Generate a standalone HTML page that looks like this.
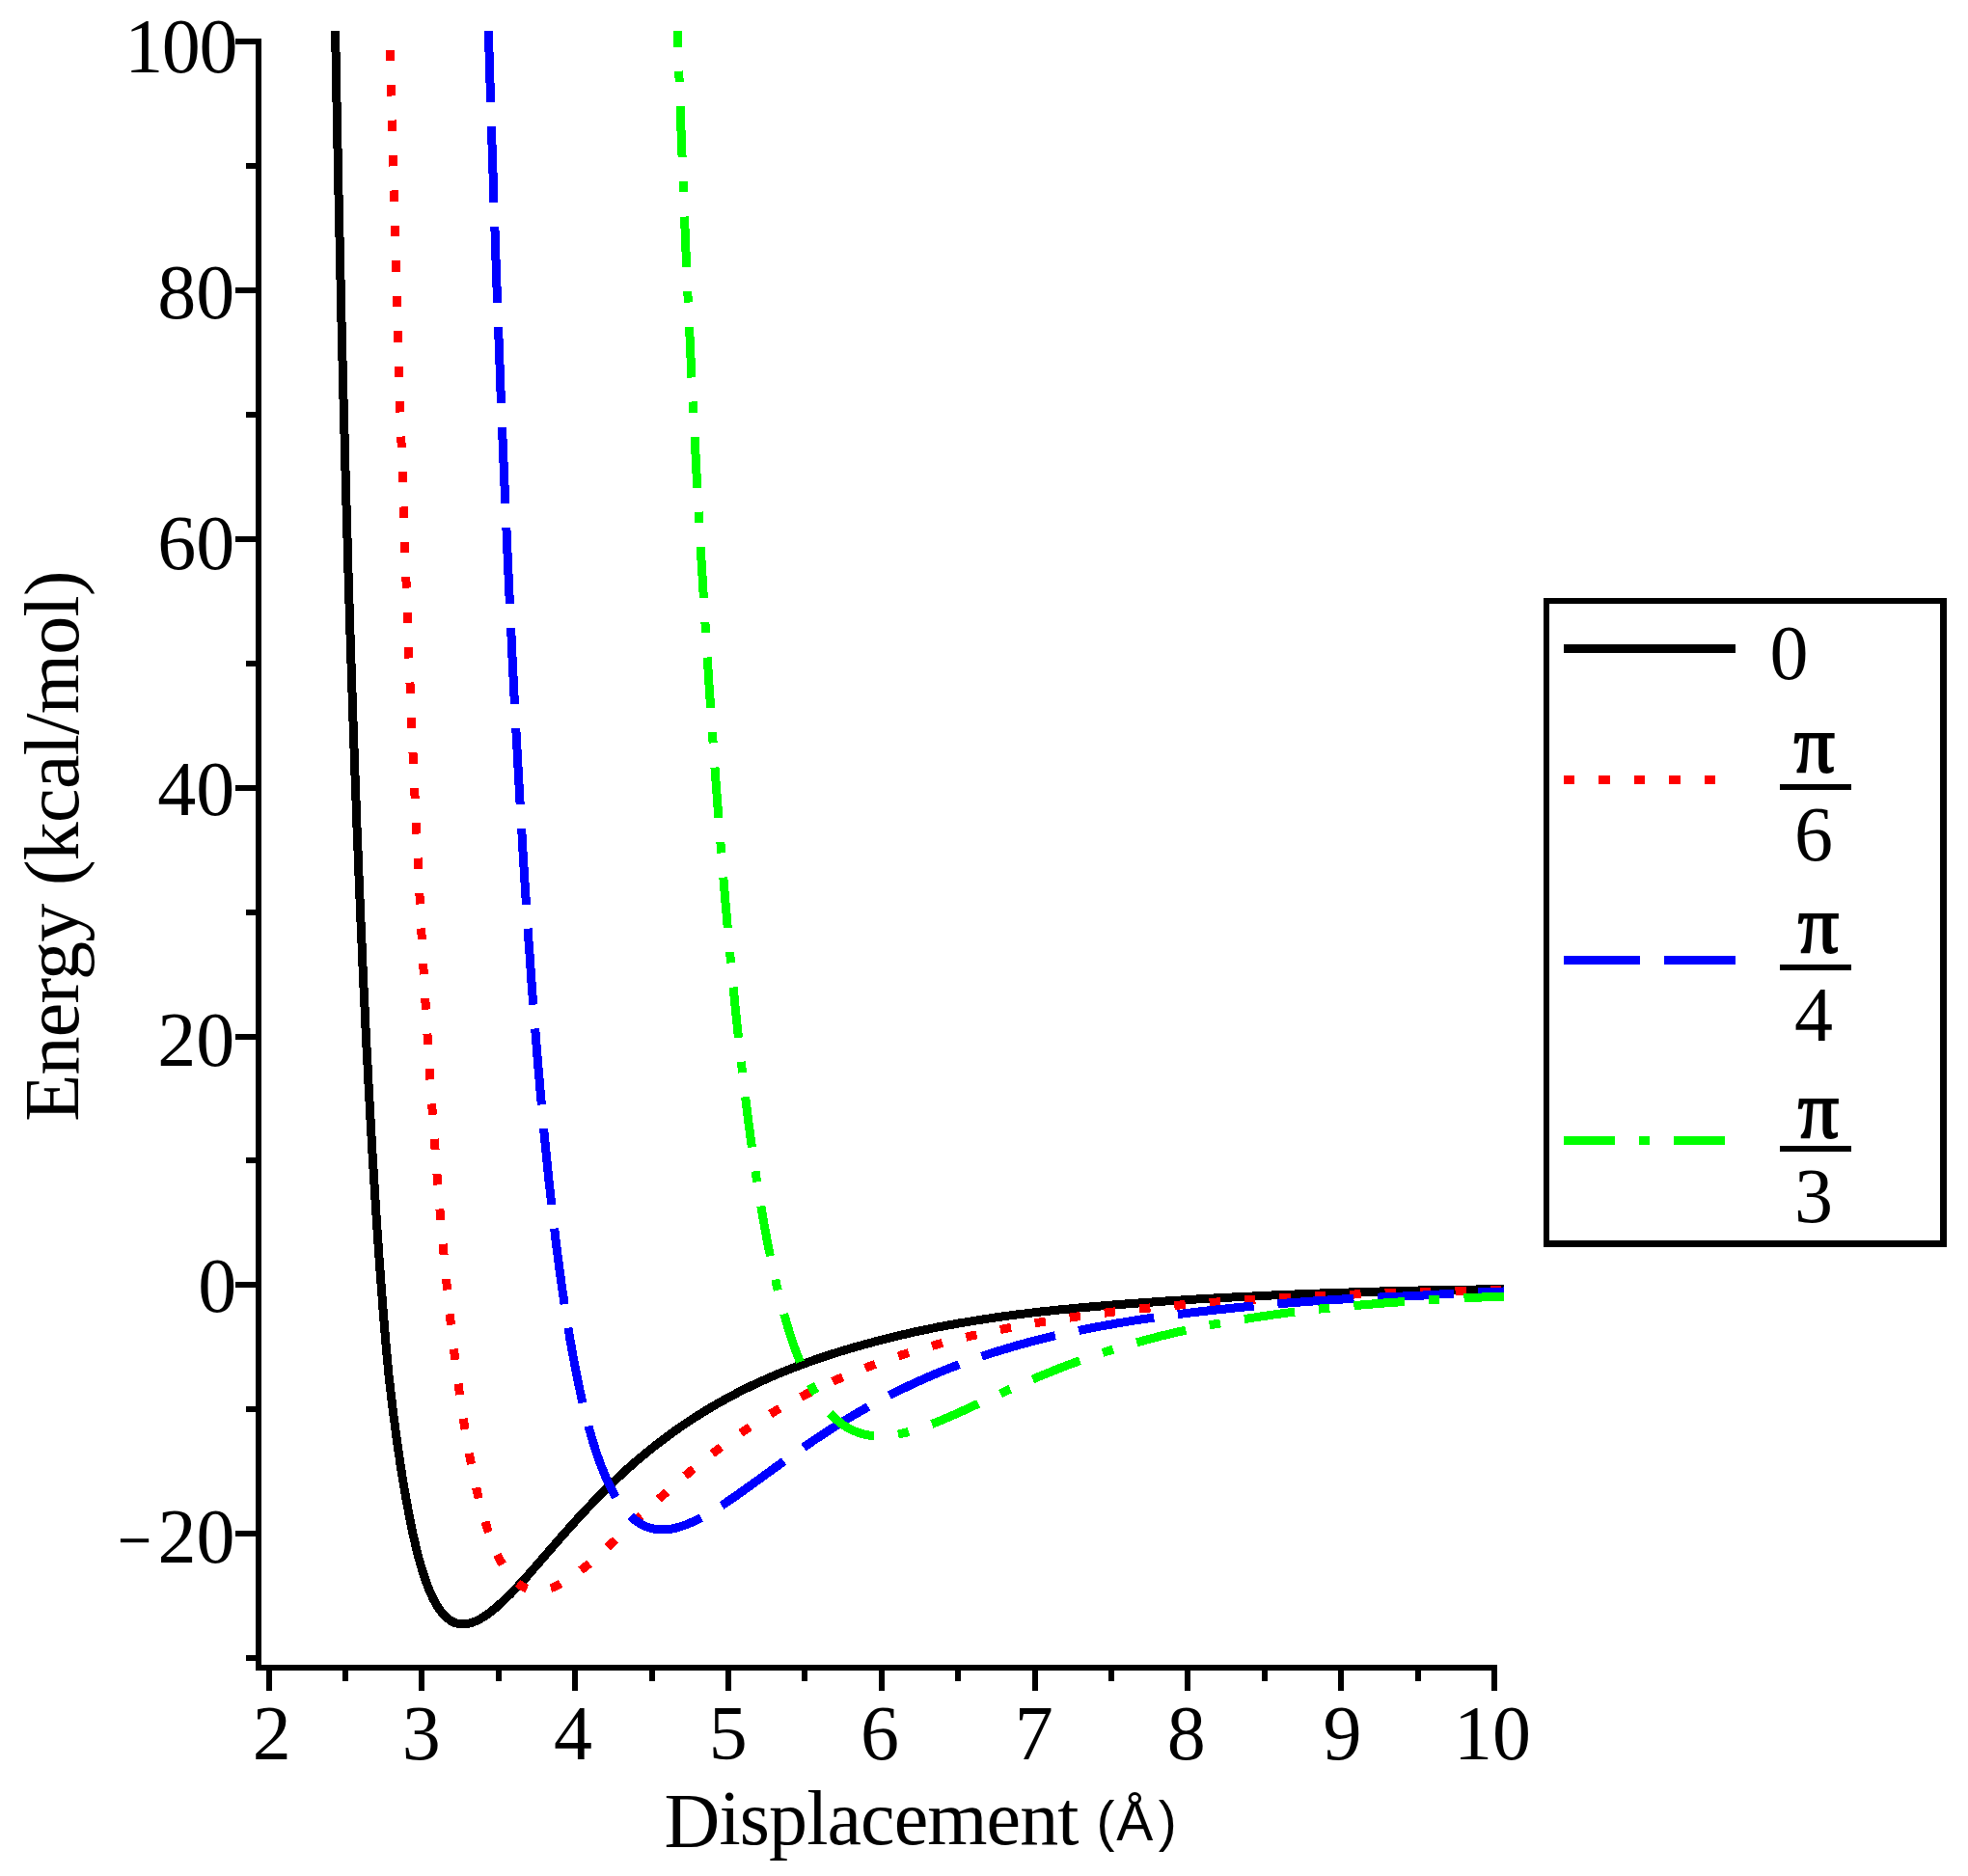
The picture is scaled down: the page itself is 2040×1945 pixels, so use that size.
<!DOCTYPE html>
<html lang="en"><head><meta charset="utf-8"><title>Energy vs Displacement</title>
<style>html,body{margin:0;padding:0;background:#fff;overflow:hidden;width:2040px;height:1945px}svg{display:block}text{font-family:'Liberation Serif', serif;font-size:80px;fill:#000}.sans{font-family:'Liberation Sans', sans-serif;font-size:56px}</style></head><body>
<svg width="2040" height="1945" viewBox="0 0 2040 1945">
<rect width="2040" height="1945" fill="#fff"/>
<defs><clipPath id="plotclip"><rect x="262" y="32" width="1297" height="1700"/></clipPath></defs>
<g clip-path="url(#plotclip)" fill="none" stroke-width="9" stroke-linecap="butt" stroke-linejoin="round" shape-rendering="crispEdges">
<path d="M344.7,-110.1 L344.7,-106.1 L344.8,-102.1 L344.9,-98.1 L345.0,-94.1 L345.0,-90.1 L345.1,-86.1 L345.2,-82.1 L345.3,-78.1 L345.4,-74.1 L345.4,-70.1 L345.5,-66.1 L345.6,-62.1 L345.7,-58.1 L345.8,-54.1 L345.9,-50.1 L345.9,-46.1 L346.0,-42.1 L346.1,-38.1 L346.2,-34.1 L346.3,-30.1 L346.3,-26.1 L346.4,-22.1 L346.5,-18.1 L346.6,-14.1 L346.7,-10.1 L346.8,-6.1 L346.8,-2.1 L346.9,1.9 L347.0,5.9 L347.1,9.9 L347.2,13.9 L347.3,17.9 L347.3,21.9 L347.4,25.9 L347.5,29.9 L347.6,33.9 L347.7,37.9 L347.7,41.9 L347.8,45.9 L347.9,49.9 L348.0,53.9 L348.0,57.9 L348.1,61.9 L348.2,65.9 L348.3,69.9 L348.4,73.9 L348.4,77.9 L348.5,81.9 L348.6,85.9 L348.7,89.9 L348.7,93.9 L348.8,97.9 L348.9,101.9 L349.0,105.9 L349.1,109.9 L349.1,113.9 L349.2,117.9 L349.3,121.9 L349.4,125.9 L349.5,129.9 L349.6,133.9 L349.6,137.9 L349.7,141.9 L349.8,145.9 L349.9,149.9 L350.0,153.9 L350.0,157.9 L350.1,161.9 L350.2,165.9 L350.3,169.9 L350.4,173.9 L350.5,177.9 L350.6,181.9 L350.6,185.9 L350.7,189.9 L350.8,193.9 L350.9,197.9 L351.0,201.9 L351.1,205.9 L351.2,209.9 L351.2,213.9 L351.3,217.9 L351.4,221.9 L351.5,225.9 L351.6,229.9 L351.7,233.9 L351.8,237.9 L351.9,241.9 L352.0,245.9 L352.0,249.9 L352.1,253.9 L352.2,257.9 L352.3,261.9 L352.4,265.9 L352.5,269.9 L352.6,273.9 L352.7,277.9 L352.8,281.9 L352.9,285.9 L353.0,289.9 L353.1,293.9 L353.2,297.9 L353.2,301.9 L353.3,305.9 L353.4,309.9 L353.5,313.9 L353.6,317.9 L353.7,321.9 L353.8,325.9 L353.9,329.9 L354.0,333.9 L354.1,337.9 L354.2,341.9 L354.3,345.9 L354.4,349.9 L354.5,353.9 L354.6,357.9 L354.7,361.9 L354.8,365.9 L354.9,369.9 L355.0,373.9 L355.1,377.9 L355.2,381.9 L355.3,385.9 L355.4,389.9 L355.5,393.9 L355.6,397.9 L355.7,401.9 L355.8,405.9 L355.9,409.9 L356.0,413.9 L356.1,417.9 L356.2,421.9 L356.3,425.9 L356.4,429.9 L356.5,433.9 L356.6,437.9 L356.8,441.9 L356.9,445.9 L357.0,449.9 L357.1,453.9 L357.2,457.9 L357.3,461.9 L357.4,465.9 L357.5,469.9 L357.6,473.9 L357.7,477.9 L357.8,481.9 L357.9,485.9 L358.1,489.9 L358.2,493.9 L358.3,497.9 L358.4,501.9 L358.5,505.9 L358.6,509.9 L358.7,513.9 L358.8,517.9 L358.9,521.9 L359.1,525.9 L359.2,529.9 L359.3,533.9 L359.4,537.9 L359.5,541.9 L359.6,545.9 L359.7,549.9 L359.9,553.9 L360.0,557.9 L360.1,561.9 L360.2,565.9 L360.3,569.9 L360.5,573.9 L360.6,577.9 L360.7,581.9 L360.8,585.9 L360.9,589.9 L361.0,593.9 L361.2,597.9 L361.3,601.9 L361.4,605.9 L361.5,609.9 L361.7,613.9 L361.8,617.9 L361.9,621.9 L362.0,625.9 L362.1,629.9 L362.3,633.9 L362.4,637.9 L362.5,641.9 L362.6,645.9 L362.8,649.9 L362.9,653.9 L363.0,657.9 L363.2,661.9 L363.3,665.9 L363.4,669.9 L363.5,673.9 L363.7,677.9 L363.8,681.9 L363.9,685.9 L364.1,689.9 L364.2,693.9 L364.3,697.9 L364.5,701.9 L364.6,705.9 L364.7,709.9 L364.9,713.9 L365.0,717.9 L365.1,721.9 L365.3,725.9 L365.4,729.9 L365.5,733.9 L365.7,737.9 L365.8,741.9 L365.9,745.9 L366.1,749.9 L366.2,753.9 L366.4,757.9 L366.5,761.9 L366.6,765.9 L366.8,769.9 L366.9,773.9 L367.1,777.9 L367.2,781.9 L367.4,785.9 L367.5,789.9 L367.6,793.9 L367.8,797.9 L367.9,801.9 L368.1,805.9 L368.2,809.9 L368.4,813.9 L368.5,817.8 L368.7,821.8 L368.8,825.8 L369.0,829.8 L369.1,833.8 L369.3,837.8 L369.4,841.8 L369.6,845.8 L369.7,849.8 L369.9,853.8 L370.0,857.8 L370.2,861.8 L370.3,865.8 L370.5,869.8 L370.7,873.8 L370.8,877.8 L371.0,881.8 L371.1,885.8 L371.3,889.8 L371.4,893.8 L371.6,897.8 L371.8,901.8 L371.9,905.8 L372.1,909.8 L372.3,913.8 L372.4,917.8 L372.6,921.8 L372.7,925.8 L372.9,929.8 L373.1,933.8 L373.2,937.8 L373.4,941.8 L373.6,945.8 L373.8,949.8 L373.9,953.8 L374.1,957.8 L374.3,961.8 L374.4,965.8 L374.6,969.8 L374.8,973.8 L375.0,977.8 L375.1,981.8 L375.3,985.8 L375.5,989.8 L375.7,993.8 L375.9,997.8 L376.0,1001.8 L376.2,1005.8 L376.4,1009.8 L376.6,1013.8 L376.8,1017.7 L376.9,1021.7 L377.1,1025.7 L377.3,1029.7 L377.5,1033.7 L377.7,1037.7 L377.9,1041.7 L378.1,1045.7 L378.3,1049.7 L378.5,1053.7 L378.7,1057.7 L378.9,1061.7 L379.0,1065.7 L379.2,1069.7 L379.4,1073.7 L379.6,1077.7 L379.8,1081.7 L380.0,1085.7 L380.2,1089.7 L380.4,1093.7 L380.7,1097.7 L380.9,1101.7 L381.1,1105.7 L381.3,1109.7 L381.5,1113.7 L381.7,1117.7 L381.9,1121.7 L382.1,1125.7 L382.3,1129.6 L382.5,1133.6 L382.8,1137.6 L383.0,1141.6 L383.2,1145.6 L383.4,1149.6 L383.6,1153.6 L383.8,1157.6 L384.1,1161.6 L384.3,1165.6 L384.5,1169.6 L384.7,1173.6 L385.0,1177.6 L385.2,1181.6 L385.4,1185.6 L385.7,1189.6 L385.9,1193.6 L386.1,1197.6 L386.4,1201.6 L386.6,1205.6 L386.9,1209.5 L387.1,1213.5 L387.3,1217.5 L387.6,1221.5 L387.8,1225.5 L388.1,1229.5 L388.3,1233.5 L388.6,1237.5 L388.8,1241.5 L389.1,1245.5 L389.3,1249.5 L389.6,1253.5 L389.9,1257.5 L390.1,1261.5 L390.4,1265.5 L390.6,1269.5 L390.9,1273.4 L391.2,1277.4 L391.5,1281.4 L391.7,1285.4 L392.0,1289.4 L392.3,1293.4 L392.5,1297.4 L392.8,1301.4 L393.1,1305.4 L393.4,1309.4 L393.7,1313.4 L394.0,1317.4 L394.3,1321.3 L394.6,1325.3 L394.9,1329.3 L395.2,1333.3 L395.5,1337.3 L395.8,1341.3 L396.1,1345.3 L396.4,1349.3 L396.7,1353.3 L397.0,1357.3 L397.3,1361.3 L397.7,1365.2 L398.0,1369.2 L398.3,1373.2 L398.6,1377.2 L399.0,1381.2 L399.3,1385.2 L399.6,1389.2 L400.0,1393.2 L400.3,1397.1 L400.7,1401.1 L401.1,1405.1 L401.4,1409.1 L401.8,1413.1 L402.2,1417.1 L402.5,1421.1 L402.9,1425.0 L403.4,1429.0 L403.8,1433.0 L404.3,1437.0 L404.8,1441.0 L405.2,1444.9 L405.7,1448.9 L406.2,1452.9 L406.7,1456.8 L407.1,1460.8 L407.6,1464.8 L408.1,1468.8 L408.7,1472.7 L409.2,1476.7 L409.7,1480.7 L410.2,1484.6 L410.8,1488.6 L411.3,1492.6 L411.9,1496.5 L412.4,1500.5 L413.0,1504.5 L413.6,1508.4 L414.2,1512.4 L414.7,1516.3 L415.3,1520.3 L416.0,1524.2 L416.6,1528.2 L417.2,1532.2 L417.9,1536.1 L418.5,1540.0 L419.2,1544.0 L419.9,1547.9 L420.6,1551.9 L421.3,1555.8 L422.0,1559.7 L422.8,1563.7 L423.5,1567.6 L424.3,1571.5 L425.0,1575.5 L425.8,1579.4 L426.6,1583.3 L427.4,1587.2 L428.2,1591.1 L429.1,1595.0 L430.0,1598.9 L430.9,1602.8 L431.8,1606.7 L432.8,1610.6 L433.8,1614.5 L434.9,1618.3 L435.9,1622.2 L437.1,1626.0 L438.2,1629.8 L439.5,1633.6 L440.8,1637.4 L442.1,1641.2 L443.5,1644.9 L445.0,1648.6 L446.6,1652.3 L448.2,1655.9 L450.0,1659.5 L452.0,1663.0 L454.0,1666.4 L456.3,1669.7 L458.8,1672.8 L461.5,1675.7 L464.5,1678.4 L467.7,1680.6 L471.3,1682.4 L475.1,1683.5 L479.1,1683.9 L483.0,1683.7 L487.0,1683.0 L490.7,1681.7 L494.4,1680.2 L498.0,1678.3 L501.4,1676.3 L504.7,1674.0 L508.0,1671.7 L511.1,1669.2 L514.2,1666.6 L517.2,1664.0 L520.2,1661.3 L523.1,1658.5 L525.9,1655.7 L528.8,1652.9 L531.6,1650.0 L534.4,1647.2 L537.1,1644.3 L539.9,1641.3 L542.6,1638.4 L545.3,1635.5 L548.0,1632.5 L550.6,1629.5 L553.2,1626.4 L555.9,1623.4 L558.5,1620.4 L561.1,1617.4 L563.7,1614.3 L566.3,1611.3 L569.0,1608.3 L571.6,1605.3 L574.2,1602.3 L576.8,1599.2 L579.5,1596.2 L582.1,1593.2 L584.8,1590.2 L587.4,1587.2 L590.1,1584.2 L592.8,1581.3 L595.4,1578.3 L598.1,1575.3 L600.8,1572.4 L603.5,1569.4 L606.3,1566.5 L609.0,1563.6 L611.8,1560.7 L614.5,1557.8 L617.3,1554.9 L620.1,1552.1 L622.9,1549.2 L625.7,1546.4 L628.6,1543.6 L631.4,1540.8 L634.3,1538.0 L637.2,1535.2 L640.1,1532.4 L643.0,1529.7 L645.9,1527.0 L648.9,1524.3 L651.9,1521.6 L654.9,1519.0 L657.9,1516.4 L661.0,1513.7 L664.0,1511.2 L667.1,1508.6 L670.2,1506.0 L673.3,1503.5 L676.4,1501.0 L679.5,1498.5 L682.7,1496.1 L685.9,1493.6 L689.1,1491.2 L692.3,1488.8 L695.5,1486.4 L698.7,1484.1 L702.0,1481.8 L705.3,1479.5 L708.6,1477.2 L711.9,1475.0 L715.3,1472.8 L718.6,1470.6 L722.0,1468.4 L725.4,1466.3 L728.8,1464.2 L732.2,1462.1 L735.6,1460.0 L739.1,1458.0 L742.5,1456.0 L746.0,1454.0 L749.5,1452.1 L753.0,1450.1 L756.5,1448.2 L760.0,1446.3 L763.6,1444.5 L767.1,1442.6 L770.7,1440.8 L774.3,1439.1 L777.9,1437.3 L781.5,1435.6 L785.1,1433.9 L788.8,1432.2 L792.4,1430.6 L796.1,1428.9 L799.7,1427.3 L803.4,1425.8 L807.1,1424.2 L810.8,1422.7 L814.5,1421.2 L818.2,1419.7 L821.9,1418.2 L825.7,1416.8 L829.4,1415.4 L833.2,1414.0 L836.9,1412.6 L840.7,1411.3 L844.5,1409.9 L848.2,1408.6 L852.0,1407.3 L855.8,1406.1 L859.6,1404.8 L863.4,1403.6 L867.2,1402.4 L871.1,1401.2 L874.9,1400.0 L878.7,1398.9 L882.5,1397.7 L886.4,1396.6 L890.2,1395.5 L894.1,1394.5 L897.9,1393.4 L901.8,1392.4 L905.7,1391.3 L909.5,1390.3 L913.4,1389.3 L917.3,1388.3 L921.2,1387.3 L925.1,1386.4 L928.9,1385.4 L932.8,1384.5 L936.7,1383.6 L940.6,1382.7 L944.5,1381.8 L948.4,1380.9 L952.3,1380.1 L956.3,1379.3 L960.2,1378.4 L964.1,1377.6 L968.0,1376.8 L971.9,1376.0 L975.9,1375.3 L979.8,1374.5 L983.7,1373.8 L987.7,1373.1 L991.6,1372.4 L995.6,1371.7 L999.5,1371.1 L1003.5,1370.4 L1007.4,1369.8 L1011.4,1369.1 L1015.3,1368.5 L1019.3,1367.9 L1023.2,1367.3 L1027.2,1366.7 L1031.1,1366.1 L1035.1,1365.5 L1039.1,1364.9 L1043.0,1364.4 L1047.0,1363.9 L1051.0,1363.3 L1054.9,1362.8 L1058.9,1362.4 L1062.9,1361.9 L1066.9,1361.4 L1070.8,1360.9 L1074.8,1360.5 L1078.8,1360.0 L1082.8,1359.6 L1086.7,1359.2 L1090.7,1358.8 L1094.7,1358.3 L1098.7,1357.9 L1102.7,1357.5 L1106.6,1357.2 L1110.6,1356.8 L1114.6,1356.4 L1118.6,1356.0 L1122.6,1355.7 L1126.6,1355.3 L1130.5,1354.9 L1134.5,1354.6 L1138.5,1354.2 L1142.5,1353.9 L1146.5,1353.6 L1150.5,1353.2 L1154.5,1352.9 L1158.5,1352.6 L1162.4,1352.3 L1166.4,1352.0 L1170.4,1351.7 L1174.4,1351.4 L1178.4,1351.1 L1182.4,1350.8 L1186.4,1350.5 L1190.4,1350.3 L1194.4,1350.0 L1198.4,1349.7 L1202.3,1349.4 L1206.3,1349.1 L1210.3,1348.9 L1214.3,1348.6 L1218.3,1348.4 L1222.3,1348.1 L1226.3,1347.9 L1230.3,1347.6 L1234.3,1347.4 L1238.3,1347.1 L1242.3,1346.9 L1246.3,1346.7 L1250.3,1346.4 L1254.3,1346.2 L1258.3,1346.0 L1262.3,1345.8 L1266.3,1345.6 L1270.2,1345.4 L1274.2,1345.2 L1278.2,1344.9 L1282.2,1344.7 L1286.2,1344.5 L1290.2,1344.3 L1294.2,1344.1 L1298.2,1344.0 L1302.2,1343.8 L1306.2,1343.6 L1310.2,1343.4 L1314.2,1343.2 L1318.2,1343.0 L1322.2,1342.9 L1326.2,1342.7 L1330.2,1342.5 L1334.2,1342.3 L1338.2,1342.2 L1342.2,1342.0 L1346.2,1341.9 L1350.2,1341.7 L1354.2,1341.5 L1358.2,1341.4 L1362.2,1341.2 L1366.2,1341.1 L1370.2,1340.9 L1374.2,1340.8 L1378.2,1340.7 L1382.2,1340.5 L1386.2,1340.4 L1390.2,1340.2 L1394.2,1340.1 L1398.2,1340.0 L1402.2,1339.9 L1406.2,1339.7 L1410.2,1339.6 L1414.2,1339.5 L1418.2,1339.4 L1422.2,1339.3 L1426.2,1339.1 L1430.2,1339.0 L1434.2,1338.9 L1438.2,1338.8 L1442.2,1338.7 L1446.2,1338.6 L1450.2,1338.5 L1454.2,1338.4 L1458.2,1338.3 L1462.2,1338.2 L1466.2,1338.1 L1470.2,1338.0 L1474.2,1337.9 L1478.2,1337.8 L1482.2,1337.8 L1486.2,1337.7 L1490.2,1337.6 L1494.2,1337.5 L1498.2,1337.5 L1502.2,1337.4 L1506.2,1337.3 L1510.2,1337.3 L1514.2,1337.2 L1518.2,1337.1 L1522.2,1337.1 L1526.2,1337.0 L1530.2,1337.0 L1534.2,1336.9 L1538.2,1336.8 L1542.2,1336.8 L1546.2,1336.7 L1550.2,1336.7 L1554.2,1336.6 L1558.2,1336.6 L1562.2,1336.5 L1566.2,1336.5 L1570.2,1336.4 L1574.2,1336.3 L1578.2,1336.3" stroke="#000"/>
<path d="M400.5,-111.4 L400.6,-107.4 L400.7,-103.3 L400.8,-99.3 L400.9,-95.3 L401.0,-91.3 L401.1,-87.3 L401.1,-83.3 L401.2,-79.3 L401.3,-75.3 L401.4,-71.3 L401.5,-67.3 L401.6,-63.3 L401.7,-59.3 L401.8,-55.3 L401.9,-51.3 L402.0,-47.3 L402.1,-43.3 L402.2,-39.3 L402.3,-35.3 L402.4,-31.3 L402.5,-27.3 L402.6,-23.3 L402.7,-19.3 L402.8,-15.3 L402.9,-11.3 L403.0,-7.3 L403.1,-3.3 L403.2,0.7 L403.3,4.7 L403.4,8.7 L403.5,12.7 L403.6,16.7 L403.7,20.7 L403.8,24.7 L403.9,28.7 L404.0,32.7 L404.1,36.7 L404.2,40.7 L404.3,44.7 L404.4,48.7 L404.5,52.7 L404.6,56.7 L404.7,60.7 L404.8,64.7 L404.9,68.7 L405.0,72.7 L405.1,76.7 L405.2,80.7 L405.3,84.7 L405.4,88.7 L405.5,92.7 L405.6,96.7 L405.7,100.7 L405.8,104.7 L405.9,108.7 L406.0,112.7 L406.1,116.7 L406.2,120.7 L406.3,124.7 L406.4,128.7 L406.5,132.7 L406.6,136.7 L406.7,140.7 L406.8,144.7 L406.9,148.7 L407.1,152.7 L407.2,156.7 L407.3,160.7 L407.4,164.7 L407.5,168.7 L407.6,172.7 L407.7,176.7 L407.8,180.7 L407.9,184.7 L408.0,188.7 L408.1,192.7 L408.2,196.7 L408.3,200.7 L408.4,204.7 L408.6,208.7 L408.7,212.7 L408.8,216.7 L408.9,220.7 L409.0,224.7 L409.1,228.7 L409.2,232.7 L409.3,236.8 L409.4,240.8 L409.6,244.8 L409.7,248.8 L409.8,252.8 L409.9,256.8 L410.0,260.8 L410.1,264.8 L410.2,268.8 L410.3,272.8 L410.5,276.8 L410.6,280.8 L410.7,284.8 L410.8,288.8 L410.9,292.8 L411.0,296.8 L411.2,300.8 L411.3,304.8 L411.4,308.8 L411.5,312.8 L411.6,316.8 L411.7,320.8 L411.9,324.8 L412.0,328.8 L412.1,332.8 L412.2,336.8 L412.3,340.8 L412.5,344.8 L412.6,348.8 L412.7,352.8 L412.8,356.8 L412.9,360.8 L413.1,364.8 L413.2,368.8 L413.3,372.8 L413.4,376.8 L413.5,380.8 L413.7,384.8 L413.8,388.8 L413.9,392.8 L414.0,396.8 L414.2,400.8 L414.3,404.8 L414.4,408.8 L414.5,412.8 L414.7,416.8 L414.8,420.8 L414.9,424.8 L415.0,428.8 L415.2,432.8 L415.3,436.8 L415.4,440.8 L415.6,444.8 L415.7,448.8 L415.8,452.8 L415.9,456.8 L416.1,460.8 L416.2,464.8 L416.3,468.8 L416.5,472.8 L416.6,476.8 L416.7,480.8 L416.9,484.8 L417.0,488.8 L417.1,492.8 L417.3,496.8 L417.4,500.8 L417.5,504.8 L417.7,508.8 L417.8,512.8 L417.9,516.8 L418.1,520.8 L418.2,524.8 L418.4,528.8 L418.5,532.8 L418.6,536.8 L418.8,540.8 L418.9,544.8 L419.1,548.8 L419.2,552.8 L419.3,556.8 L419.5,560.8 L419.6,564.8 L419.8,568.8 L419.9,572.8 L420.0,576.8 L420.2,580.8 L420.3,584.8 L420.5,588.8 L420.6,592.8 L420.8,596.8 L420.9,600.8 L421.1,604.8 L421.2,608.8 L421.4,612.8 L421.5,616.8 L421.6,620.8 L421.8,624.8 L421.9,628.8 L422.1,632.8 L422.2,636.8 L422.4,640.8 L422.5,644.8 L422.7,648.8 L422.9,652.8 L423.0,656.8 L423.2,660.8 L423.3,664.8 L423.5,668.8 L423.6,672.8 L423.8,676.8 L423.9,680.8 L424.1,684.8 L424.3,688.8 L424.4,692.8 L424.6,696.8 L424.7,700.8 L424.9,704.8 L425.0,708.8 L425.2,712.8 L425.4,716.8 L425.5,720.8 L425.7,724.8 L425.9,728.8 L426.0,732.8 L426.2,736.8 L426.4,740.8 L426.5,744.8 L426.7,748.8 L426.9,752.8 L427.0,756.8 L427.2,760.8 L427.4,764.8 L427.5,768.8 L427.7,772.8 L427.9,776.8 L428.0,780.8 L428.2,784.8 L428.4,788.8 L428.6,792.8 L428.7,796.8 L428.9,800.8 L429.1,804.8 L429.3,808.8 L429.5,812.8 L429.6,816.7 L429.8,820.7 L430.0,824.7 L430.2,828.7 L430.4,832.7 L430.5,836.7 L430.7,840.7 L430.9,844.7 L431.1,848.7 L431.3,852.7 L431.5,856.7 L431.6,860.7 L431.8,864.7 L432.0,868.7 L432.2,872.7 L432.4,876.7 L432.6,880.7 L432.8,884.7 L433.0,888.7 L433.2,892.7 L433.4,896.7 L433.6,900.7 L433.8,904.7 L434.0,908.7 L434.2,912.7 L434.4,916.7 L434.6,920.7 L434.8,924.7 L435.0,928.7 L435.2,932.7 L435.4,936.7 L435.6,940.7 L435.8,944.7 L436.0,948.7 L436.2,952.7 L436.4,956.7 L436.6,960.7 L436.8,964.7 L437.0,968.7 L437.3,972.7 L437.5,976.7 L437.7,980.7 L437.9,984.6 L438.1,988.6 L438.3,992.6 L438.6,996.6 L438.8,1000.6 L439.0,1004.6 L439.2,1008.6 L439.5,1012.6 L439.7,1016.6 L439.9,1020.6 L440.1,1024.6 L440.4,1028.6 L440.6,1032.6 L440.8,1036.6 L441.1,1040.6 L441.3,1044.6 L441.5,1048.6 L441.8,1052.6 L442.0,1056.6 L442.2,1060.6 L442.5,1064.6 L442.7,1068.6 L443.0,1072.6 L443.2,1076.6 L443.5,1080.5 L443.7,1084.5 L444.0,1088.5 L444.2,1092.5 L444.5,1096.5 L444.7,1100.5 L445.0,1104.5 L445.2,1108.5 L445.5,1112.5 L445.8,1116.5 L446.0,1120.5 L446.3,1124.5 L446.6,1128.5 L446.8,1132.5 L447.1,1136.5 L447.4,1140.5 L447.6,1144.5 L447.9,1148.4 L448.2,1152.4 L448.5,1156.4 L448.7,1160.4 L449.0,1164.4 L449.3,1168.4 L449.6,1172.4 L449.9,1176.4 L450.2,1180.4 L450.5,1184.4 L450.8,1188.4 L451.1,1192.4 L451.4,1196.4 L451.7,1200.3 L452.0,1204.3 L452.3,1208.3 L452.6,1212.3 L452.9,1216.3 L453.2,1220.3 L453.5,1224.3 L453.8,1228.3 L454.1,1232.3 L454.5,1236.3 L454.8,1240.2 L455.1,1244.2 L455.4,1248.2 L455.8,1252.2 L456.1,1256.2 L456.5,1260.2 L456.8,1264.2 L457.1,1268.2 L457.5,1272.2 L457.8,1276.1 L458.2,1280.1 L458.5,1284.1 L458.9,1288.1 L459.3,1292.1 L459.6,1296.1 L460.0,1300.1 L460.4,1304.0 L460.7,1308.0 L461.1,1312.0 L461.5,1316.0 L461.9,1320.0 L462.3,1324.0 L462.7,1327.9 L463.1,1331.9 L463.5,1335.9 L463.9,1339.9 L464.3,1343.9 L464.7,1347.9 L465.1,1351.8 L465.5,1355.8 L466.0,1359.8 L466.4,1363.8 L466.8,1367.8 L467.3,1371.7 L467.7,1375.7 L468.2,1379.7 L468.6,1383.7 L469.1,1387.6 L469.5,1391.6 L470.0,1395.6 L470.5,1399.6 L471.0,1403.5 L471.5,1407.5 L472.0,1411.5 L472.5,1415.5 L473.0,1419.4 L473.5,1423.4 L474.0,1427.4 L474.5,1431.3 L475.1,1435.3 L475.6,1439.3 L476.2,1443.2 L476.7,1447.2 L477.3,1451.2 L477.9,1455.1 L478.5,1459.1 L479.1,1463.0 L479.7,1467.0 L480.3,1470.9 L480.9,1474.9 L481.5,1478.9 L482.2,1482.8 L482.8,1486.8 L483.5,1490.7 L484.2,1494.6 L484.9,1498.6 L485.6,1502.5 L486.3,1506.5 L487.0,1510.4 L487.8,1514.3 L488.6,1518.3 L489.3,1522.2 L490.1,1526.1 L491.0,1530.0 L491.8,1533.9 L492.7,1537.8 L493.5,1541.8 L494.4,1545.7 L495.4,1549.6 L496.3,1553.4 L497.3,1557.3 L498.3,1561.2 L499.3,1565.1 L500.4,1568.9 L501.5,1572.8 L502.6,1576.6 L503.8,1580.4 L505.0,1584.3 L506.3,1588.1 L507.6,1591.8 L508.9,1595.6 L510.3,1599.4 L511.8,1603.1 L513.4,1606.8 L515.0,1610.4 L516.7,1614.0 L518.5,1617.6 L520.4,1621.1 L522.5,1624.6 L524.7,1628.0 L527.0,1631.2 L529.5,1634.4 L532.2,1637.3 L535.1,1640.1 L538.2,1642.6 L541.5,1644.8 L545.1,1646.6 L548.9,1647.9 L552.9,1648.8 L556.9,1649.1 L560.9,1648.9 L564.8,1648.3 L568.7,1647.3 L572.5,1646.1 L576.2,1644.5 L579.8,1642.8 L583.4,1640.9 L586.8,1638.9 L590.2,1636.7 L593.5,1634.5 L596.8,1632.2 L600.0,1629.8 L603.2,1627.3 L606.3,1624.8 L609.4,1622.3 L612.4,1619.7 L615.5,1617.1 L618.5,1614.4 L621.5,1611.7 L624.4,1609.1 L627.4,1606.4 L630.3,1603.6 L633.3,1600.9 L636.2,1598.2 L639.1,1595.4 L642.0,1592.7 L644.9,1589.9 L647.8,1587.2 L650.7,1584.4 L653.6,1581.7 L656.5,1578.9 L659.4,1576.2 L662.3,1573.4 L665.2,1570.7 L668.2,1567.9 L671.1,1565.2 L674.0,1562.5 L676.9,1559.7 L679.9,1557.0 L682.8,1554.3 L685.8,1551.6 L688.7,1548.9 L691.7,1546.3 L694.7,1543.6 L697.7,1540.9 L700.7,1538.3 L703.7,1535.7 L706.8,1533.0 L709.8,1530.4 L712.9,1527.9 L715.9,1525.3 L719.0,1522.7 L722.1,1520.2 L725.2,1517.7 L728.3,1515.2 L731.4,1512.7 L734.6,1510.2 L737.7,1507.7 L740.9,1505.3 L744.1,1502.9 L747.3,1500.5 L750.5,1498.1 L753.8,1495.7 L757.0,1493.4 L760.3,1491.1 L763.5,1488.8 L766.8,1486.5 L770.1,1484.2 L773.4,1482.0 L776.8,1479.8 L780.1,1477.6 L783.5,1475.4 L786.9,1473.3 L790.2,1471.1 L793.6,1469.0 L797.1,1466.9 L800.5,1464.9 L803.9,1462.8 L807.4,1460.8 L810.9,1458.8 L814.3,1456.9 L817.8,1454.9 L821.4,1453.0 L824.9,1451.1 L828.4,1449.2 L832.0,1447.4 L835.5,1445.5 L839.1,1443.7 L842.7,1441.9 L846.3,1440.2 L849.9,1438.4 L853.5,1436.7 L857.1,1435.0 L860.7,1433.4 L864.4,1431.7 L868.1,1430.1 L871.7,1428.5 L875.4,1426.9 L879.1,1425.4 L882.8,1423.8 L886.5,1422.3 L890.2,1420.8 L893.9,1419.4 L897.7,1417.9 L901.4,1416.5 L905.2,1415.1 L908.9,1413.7 L912.7,1412.3 L916.4,1411.0 L920.2,1409.7 L924.0,1408.4 L927.8,1407.1 L931.6,1405.9 L935.4,1404.6 L939.2,1403.4 L943.0,1402.2 L946.9,1401.0 L950.7,1399.9 L954.5,1398.7 L958.4,1397.6 L962.2,1396.5 L966.1,1395.4 L969.9,1394.3 L973.8,1393.3 L977.7,1392.2 L981.5,1391.2 L985.4,1390.2 L989.3,1389.2 L993.2,1388.3 L997.0,1387.3 L1000.9,1386.4 L1004.8,1385.5 L1008.7,1384.6 L1012.6,1383.7 L1016.5,1382.8 L1020.5,1381.9 L1024.4,1381.1 L1028.3,1380.3 L1032.2,1379.4 L1036.1,1378.6 L1040.0,1377.9 L1044.0,1377.1 L1047.9,1376.3 L1051.8,1375.6 L1055.8,1374.8 L1059.7,1374.1 L1063.6,1373.4 L1067.6,1372.7 L1071.5,1372.0 L1075.5,1371.3 L1079.4,1370.7 L1083.4,1370.0 L1087.3,1369.4 L1091.3,1368.8 L1095.2,1368.1 L1099.2,1367.5 L1103.1,1366.9 L1107.1,1366.3 L1111.1,1365.8 L1115.0,1365.2 L1119.0,1364.6 L1122.9,1364.1 L1126.9,1363.6 L1130.9,1363.0 L1134.9,1362.5 L1138.8,1362.0 L1142.8,1361.5 L1146.8,1361.0 L1150.7,1360.5 L1154.7,1360.0 L1158.7,1359.6 L1162.7,1359.1 L1166.6,1358.7 L1170.6,1358.2 L1174.6,1357.8 L1178.6,1357.4 L1182.6,1356.9 L1186.5,1356.5 L1190.5,1356.1 L1194.5,1355.7 L1198.5,1355.3 L1202.5,1354.9 L1206.5,1354.6 L1210.4,1354.2 L1214.4,1353.8 L1218.4,1353.5 L1222.4,1353.1 L1226.4,1352.7 L1230.4,1352.4 L1234.4,1352.1 L1238.3,1351.7 L1242.3,1351.4 L1246.3,1351.1 L1250.3,1350.8 L1254.3,1350.5 L1258.3,1350.2 L1262.3,1349.9 L1266.3,1349.6 L1270.3,1349.3 L1274.3,1349.0 L1278.3,1348.7 L1282.3,1348.5 L1286.2,1348.2 L1290.2,1347.9 L1294.2,1347.7 L1298.2,1347.4 L1302.2,1347.2 L1306.2,1346.9 L1310.2,1346.7 L1314.2,1346.4 L1318.2,1346.2 L1322.2,1346.0 L1326.2,1345.7 L1330.2,1345.5 L1334.2,1345.3 L1338.2,1345.1 L1342.2,1344.9 L1346.2,1344.7 L1350.2,1344.5 L1354.2,1344.2 L1358.2,1344.1 L1362.2,1343.9 L1366.2,1343.7 L1370.2,1343.5 L1374.2,1343.3 L1378.2,1343.1 L1382.2,1342.9 L1386.2,1342.8 L1390.2,1342.6 L1394.2,1342.4 L1398.2,1342.2 L1402.2,1342.1 L1406.2,1341.9 L1410.2,1341.8 L1414.2,1341.6 L1418.2,1341.4 L1422.2,1341.3 L1426.2,1341.1 L1430.2,1341.0 L1434.2,1340.9 L1438.2,1340.7 L1442.2,1340.6 L1446.2,1340.4 L1450.2,1340.3 L1454.2,1340.2 L1458.2,1340.0 L1462.2,1339.9 L1466.2,1339.8 L1470.2,1339.7 L1474.2,1339.5 L1478.2,1339.4 L1482.2,1339.3 L1486.2,1339.2 L1490.2,1339.1 L1494.2,1339.0 L1498.2,1338.8 L1502.2,1338.7 L1506.2,1338.6 L1510.2,1338.5 L1514.2,1338.4 L1518.2,1338.3 L1522.2,1338.2 L1526.2,1338.1 L1530.2,1338.0 L1534.2,1337.9 L1538.2,1337.8 L1542.2,1337.7 L1546.2,1337.6 L1550.2,1337.5 L1554.2,1337.5 L1558.2,1337.4 L1562.2,1337.3 L1566.2,1337.2 L1570.2,1337.1 L1574.2,1337.0 L1578.2,1337.0" stroke="#f00" stroke-dasharray="11.4 25.057" stroke-dashoffset="19.16"/>
<path d="M502.2,-110.6 L502.3,-106.6 L502.4,-102.6 L502.5,-98.6 L502.7,-94.6 L502.8,-90.6 L502.9,-86.6 L503.0,-82.6 L503.1,-78.6 L503.2,-74.6 L503.3,-70.6 L503.5,-66.6 L503.6,-62.6 L503.7,-58.6 L503.8,-54.6 L503.9,-50.6 L504.0,-46.6 L504.2,-42.6 L504.3,-38.6 L504.4,-34.6 L504.5,-30.6 L504.6,-26.6 L504.7,-22.6 L504.9,-18.6 L505.0,-14.6 L505.1,-10.6 L505.2,-6.6 L505.3,-2.6 L505.5,1.4 L505.6,5.4 L505.7,9.4 L505.8,13.4 L505.9,17.4 L506.1,21.4 L506.2,25.4 L506.3,29.4 L506.4,33.4 L506.5,37.4 L506.7,41.4 L506.8,45.4 L506.9,49.4 L507.0,53.4 L507.1,57.4 L507.3,61.4 L507.4,65.4 L507.5,69.4 L507.6,73.4 L507.8,77.4 L507.9,81.4 L508.0,85.4 L508.1,89.4 L508.2,93.4 L508.4,97.4 L508.5,101.4 L508.6,105.4 L508.7,109.4 L508.9,113.4 L509.0,117.4 L509.1,121.4 L509.2,125.4 L509.4,129.4 L509.5,133.4 L509.6,137.4 L509.8,141.4 L509.9,145.4 L510.0,149.4 L510.1,153.4 L510.3,157.4 L510.4,161.4 L510.5,165.4 L510.7,169.4 L510.8,173.4 L510.9,177.4 L511.1,181.4 L511.2,185.4 L511.3,189.4 L511.4,193.4 L511.6,197.4 L511.7,201.4 L511.8,205.4 L512.0,209.4 L512.1,213.4 L512.3,217.4 L512.4,221.4 L512.5,225.4 L512.7,229.4 L512.8,233.4 L512.9,237.4 L513.1,241.4 L513.2,245.4 L513.3,249.4 L513.5,253.4 L513.6,257.4 L513.8,261.4 L513.9,265.4 L514.0,269.4 L514.2,273.4 L514.3,277.4 L514.5,281.4 L514.6,285.4 L514.7,289.4 L514.9,293.4 L515.0,297.4 L515.2,301.4 L515.3,305.4 L515.5,309.4 L515.6,313.4 L515.7,317.4 L515.9,321.4 L516.0,325.4 L516.2,329.4 L516.3,333.4 L516.5,337.4 L516.6,341.4 L516.8,345.4 L516.9,349.4 L517.1,353.4 L517.2,357.4 L517.4,361.4 L517.5,365.4 L517.7,369.4 L517.8,373.4 L518.0,377.4 L518.1,381.4 L518.3,385.4 L518.4,389.4 L518.6,393.4 L518.7,397.4 L518.9,401.4 L519.0,405.4 L519.2,409.4 L519.4,413.4 L519.5,417.4 L519.7,421.4 L519.8,425.4 L520.0,429.4 L520.1,433.4 L520.3,437.4 L520.5,441.4 L520.6,445.4 L520.8,449.4 L520.9,453.4 L521.1,457.4 L521.3,461.4 L521.4,465.4 L521.6,469.4 L521.7,473.4 L521.9,477.4 L522.1,481.4 L522.2,485.4 L522.4,489.4 L522.6,493.4 L522.7,497.4 L522.9,501.4 L523.1,505.4 L523.2,509.4 L523.4,513.4 L523.6,517.4 L523.7,521.4 L523.9,525.4 L524.1,529.4 L524.3,533.4 L524.4,537.4 L524.6,541.4 L524.8,545.4 L525.0,549.4 L525.1,553.4 L525.3,557.4 L525.5,561.4 L525.7,565.4 L525.8,569.4 L526.0,573.4 L526.2,577.4 L526.4,581.4 L526.5,585.4 L526.7,589.4 L526.9,593.4 L527.1,597.3 L527.3,601.3 L527.4,605.3 L527.6,609.3 L527.8,613.3 L528.0,617.3 L528.2,621.3 L528.4,625.3 L528.6,629.3 L528.7,633.3 L528.9,637.3 L529.1,641.3 L529.3,645.3 L529.5,649.3 L529.7,653.3 L529.9,657.3 L530.1,661.3 L530.3,665.3 L530.5,669.3 L530.7,673.3 L530.8,677.3 L531.0,681.3 L531.2,685.3 L531.4,689.3 L531.6,693.3 L531.8,697.3 L532.0,701.3 L532.2,705.3 L532.4,709.3 L532.6,713.3 L532.8,717.3 L533.0,721.3 L533.2,725.3 L533.5,729.3 L533.7,733.3 L533.9,737.3 L534.1,741.3 L534.3,745.3 L534.5,749.3 L534.7,753.2 L534.9,757.2 L535.1,761.2 L535.3,765.2 L535.6,769.2 L535.8,773.2 L536.0,777.2 L536.2,781.2 L536.4,785.2 L536.6,789.2 L536.9,793.2 L537.1,797.2 L537.3,801.2 L537.5,805.2 L537.7,809.2 L538.0,813.2 L538.2,817.2 L538.4,821.2 L538.6,825.2 L538.9,829.2 L539.1,833.2 L539.3,837.2 L539.6,841.2 L539.8,845.2 L540.0,849.2 L540.3,853.1 L540.5,857.1 L540.7,861.1 L541.0,865.1 L541.2,869.1 L541.4,873.1 L541.7,877.1 L541.9,881.1 L542.2,885.1 L542.4,889.1 L542.7,893.1 L542.9,897.1 L543.2,901.1 L543.4,905.1 L543.7,909.1 L543.9,913.1 L544.2,917.1 L544.4,921.1 L544.7,925.1 L544.9,929.0 L545.2,933.0 L545.4,937.0 L545.7,941.0 L546.0,945.0 L546.2,949.0 L546.5,953.0 L546.8,957.0 L547.0,961.0 L547.3,965.0 L547.6,969.0 L547.8,973.0 L548.1,977.0 L548.4,981.0 L548.7,985.0 L549.0,988.9 L549.2,992.9 L549.5,996.9 L549.8,1000.9 L550.1,1004.9 L550.4,1008.9 L550.7,1012.9 L550.9,1016.9 L551.2,1020.9 L551.5,1024.9 L551.8,1028.9 L552.1,1032.9 L552.4,1036.8 L552.7,1040.8 L553.0,1044.8 L553.3,1048.8 L553.6,1052.8 L553.9,1056.8 L554.3,1060.8 L554.6,1064.8 L554.9,1068.8 L555.2,1072.8 L555.5,1076.7 L555.8,1080.7 L556.2,1084.7 L556.5,1088.7 L556.8,1092.7 L557.1,1096.7 L557.5,1100.7 L557.8,1104.7 L558.1,1108.7 L558.5,1112.6 L558.8,1116.6 L559.2,1120.6 L559.5,1124.6 L559.8,1128.6 L560.2,1132.6 L560.6,1136.6 L560.9,1140.6 L561.3,1144.5 L561.6,1148.5 L562.0,1152.5 L562.4,1156.5 L562.7,1160.5 L563.1,1164.5 L563.5,1168.5 L563.8,1172.4 L564.2,1176.4 L564.6,1180.4 L565.0,1184.4 L565.4,1188.4 L565.8,1192.4 L566.2,1196.3 L566.6,1200.3 L567.0,1204.3 L567.4,1208.3 L567.8,1212.3 L568.2,1216.2 L568.6,1220.2 L569.0,1224.2 L569.5,1228.2 L569.9,1232.2 L570.3,1236.1 L570.8,1240.1 L571.2,1244.1 L571.7,1248.1 L572.1,1252.1 L572.6,1256.0 L573.0,1260.0 L573.5,1264.0 L573.9,1268.0 L574.4,1271.9 L574.9,1275.9 L575.4,1279.9 L575.8,1283.9 L576.3,1287.8 L576.8,1291.8 L577.3,1295.8 L577.8,1299.7 L578.4,1303.7 L578.9,1307.7 L579.4,1311.6 L579.9,1315.6 L580.5,1319.6 L581.0,1323.5 L581.5,1327.5 L582.1,1331.5 L582.7,1335.4 L583.2,1339.4 L583.8,1343.4 L584.4,1347.3 L585.0,1351.3 L585.6,1355.2 L586.2,1359.2 L586.8,1363.1 L587.4,1367.1 L588.0,1371.1 L588.7,1375.0 L589.3,1379.0 L590.0,1382.9 L590.6,1386.9 L591.3,1390.8 L592.0,1394.7 L592.7,1398.7 L593.4,1402.6 L594.1,1406.6 L594.9,1410.5 L595.6,1414.4 L596.4,1418.4 L597.1,1422.3 L597.9,1426.2 L598.7,1430.1 L599.5,1434.1 L600.4,1438.0 L601.2,1441.9 L602.0,1445.8 L602.9,1449.7 L603.8,1453.6 L604.7,1457.5 L605.7,1461.4 L606.6,1465.3 L607.6,1469.2 L608.6,1473.0 L609.6,1476.9 L610.6,1480.8 L611.7,1484.6 L612.8,1488.5 L613.9,1492.3 L615.1,1496.1 L616.3,1500.0 L617.5,1503.8 L618.8,1507.6 L620.1,1511.4 L621.4,1515.1 L622.8,1518.9 L624.3,1522.6 L625.8,1526.3 L627.3,1530.0 L628.9,1533.7 L630.6,1537.3 L632.3,1540.9 L634.1,1544.5 L636.0,1548.0 L638.0,1551.5 L640.1,1554.9 L642.3,1558.2 L644.6,1561.5 L647.0,1564.7 L649.6,1567.7 L652.3,1570.7 L655.2,1573.4 L658.3,1576.0 L661.5,1578.3 L664.9,1580.4 L668.5,1582.2 L672.2,1583.7 L676.0,1584.8 L680.0,1585.5 L683.9,1585.9 L687.9,1585.9 L691.9,1585.6 L695.9,1585.1 L699.8,1584.3 L703.7,1583.3 L707.5,1582.1 L711.2,1580.7 L715.0,1579.2 L718.6,1577.6 L722.2,1575.9 L725.8,1574.1 L729.3,1572.2 L732.8,1570.2 L736.3,1568.2 L739.7,1566.2 L743.1,1564.0 L746.5,1561.9 L749.9,1559.7 L753.2,1557.5 L756.5,1555.2 L759.8,1553.0 L763.1,1550.7 L766.4,1548.4 L769.6,1546.1 L772.9,1543.7 L776.1,1541.4 L779.4,1539.1 L782.6,1536.7 L785.9,1534.4 L789.1,1532.0 L792.4,1529.7 L795.6,1527.3 L798.8,1525.0 L802.1,1522.6 L805.3,1520.3 L808.5,1517.9 L811.8,1515.6 L815.0,1513.2 L818.3,1510.9 L821.6,1508.6 L824.8,1506.3 L828.1,1504.0 L831.4,1501.7 L834.7,1499.4 L838.0,1497.2 L841.3,1494.9 L844.6,1492.7 L847.9,1490.5 L851.3,1488.3 L854.6,1486.1 L858.0,1483.9 L861.3,1481.7 L864.7,1479.6 L868.1,1477.4 L871.5,1475.3 L874.9,1473.2 L878.3,1471.1 L881.7,1469.1 L885.2,1467.0 L888.6,1465.0 L892.1,1463.0 L895.6,1461.0 L899.0,1459.0 L902.5,1457.1 L906.0,1455.1 L909.6,1453.2 L913.1,1451.3 L916.6,1449.5 L920.2,1447.6 L923.7,1445.8 L927.3,1444.0 L930.9,1442.2 L934.5,1440.4 L938.1,1438.7 L941.7,1436.9 L945.3,1435.2 L948.9,1433.6 L952.6,1431.9 L956.2,1430.3 L959.9,1428.6 L963.6,1427.1 L967.2,1425.5 L970.9,1423.9 L974.6,1422.4 L978.3,1420.9 L982.1,1419.4 L985.8,1417.9 L989.5,1416.5 L993.3,1415.1 L997.0,1413.7 L1000.8,1412.3 L1004.5,1410.9 L1008.3,1409.6 L1012.1,1408.2 L1015.9,1406.9 L1019.7,1405.6 L1023.5,1404.4 L1027.3,1403.1 L1031.1,1401.9 L1034.9,1400.7 L1038.7,1399.6 L1042.6,1398.4 L1046.4,1397.3 L1050.2,1396.1 L1054.1,1395.0 L1057.9,1394.0 L1061.8,1392.9 L1065.7,1391.8 L1069.5,1390.8 L1073.4,1389.8 L1077.3,1388.8 L1081.2,1387.8 L1085.1,1386.9 L1088.9,1385.9 L1092.8,1385.0 L1096.7,1384.1 L1100.7,1383.2 L1104.6,1382.4 L1108.5,1381.5 L1112.4,1380.7 L1116.3,1379.9 L1120.2,1379.0 L1124.2,1378.3 L1128.1,1377.5 L1132.0,1376.7 L1135.9,1376.0 L1139.9,1375.2 L1143.8,1374.5 L1147.8,1373.8 L1151.7,1373.1 L1155.6,1372.4 L1159.6,1371.7 L1163.5,1371.1 L1167.5,1370.4 L1171.4,1369.8 L1175.4,1369.1 L1179.3,1368.5 L1183.3,1367.9 L1187.2,1367.3 L1191.2,1366.8 L1195.2,1366.2 L1199.1,1365.6 L1203.1,1365.1 L1207.1,1364.5 L1211.0,1364.0 L1215.0,1363.5 L1219.0,1362.9 L1222.9,1362.4 L1226.9,1361.9 L1230.9,1361.4 L1234.8,1360.9 L1238.8,1360.5 L1242.8,1360.0 L1246.8,1359.5 L1250.7,1359.1 L1254.7,1358.6 L1258.7,1358.2 L1262.7,1357.8 L1266.7,1357.4 L1270.6,1357.0 L1274.6,1356.5 L1278.6,1356.1 L1282.6,1355.7 L1286.6,1355.3 L1290.5,1354.9 L1294.5,1354.6 L1298.5,1354.2 L1302.5,1353.8 L1306.5,1353.4 L1310.5,1353.1 L1314.5,1352.7 L1318.4,1352.4 L1322.4,1352.0 L1326.4,1351.7 L1330.4,1351.4 L1334.4,1351.0 L1338.4,1350.7 L1342.4,1350.4 L1346.4,1350.1 L1350.4,1349.8 L1354.3,1349.5 L1358.3,1349.2 L1362.3,1348.9 L1366.3,1348.7 L1370.3,1348.4 L1374.3,1348.1 L1378.3,1347.9 L1382.3,1347.6 L1386.3,1347.3 L1390.3,1347.1 L1394.3,1346.8 L1398.3,1346.6 L1402.3,1346.4 L1406.3,1346.1 L1410.3,1345.9 L1414.3,1345.7 L1418.2,1345.5 L1422.2,1345.4 L1426.2,1345.2 L1430.2,1345.0 L1434.2,1344.8 L1438.2,1344.6 L1442.2,1344.5 L1446.2,1344.3 L1450.2,1344.1 L1454.2,1344.0 L1458.2,1343.8 L1462.2,1343.6 L1466.2,1343.5 L1470.2,1343.3 L1474.2,1343.1 L1478.2,1342.8 L1482.2,1342.6 L1486.2,1342.3 L1490.2,1342.1 L1494.2,1341.9 L1498.2,1341.6 L1502.2,1341.4 L1506.2,1341.2 L1510.2,1341.0 L1514.2,1340.8 L1518.2,1340.5 L1522.2,1340.3 L1526.2,1340.1 L1530.2,1339.9 L1534.2,1339.7 L1538.2,1339.6 L1542.2,1339.5 L1546.2,1339.3 L1550.2,1339.2 L1554.2,1339.1 L1558.2,1339.0 L1562.2,1338.9 L1566.2,1338.7 L1570.2,1338.6 L1574.2,1338.5 L1578.2,1338.4" stroke="#00f" stroke-dasharray="79.2 24.88" stroke-dashoffset="70.56"/>
<path d="M697.4,-111.0 L697.5,-107.0 L697.6,-103.0 L697.8,-99.0 L697.9,-95.0 L698.0,-91.0 L698.2,-87.0 L698.3,-83.0 L698.4,-79.0 L698.6,-75.0 L698.7,-71.0 L698.8,-67.0 L699.0,-63.0 L699.1,-59.0 L699.3,-55.0 L699.4,-51.0 L699.5,-47.0 L699.7,-43.0 L699.8,-39.0 L699.9,-35.0 L700.1,-31.0 L700.2,-27.0 L700.4,-23.0 L700.5,-19.0 L700.6,-15.0 L700.8,-11.0 L700.9,-7.0 L701.1,-3.0 L701.2,1.0 L701.4,5.0 L701.5,9.0 L701.6,13.0 L701.8,17.0 L701.9,21.0 L702.1,25.0 L702.2,29.0 L702.4,33.0 L702.5,37.0 L702.6,41.0 L702.8,45.0 L702.9,49.0 L703.1,53.0 L703.2,57.0 L703.3,61.0 L703.5,65.0 L703.6,69.0 L703.7,73.0 L703.9,77.0 L704.0,81.0 L704.2,85.0 L704.3,89.0 L704.4,93.0 L704.6,97.0 L704.7,101.0 L704.9,105.0 L705.0,109.0 L705.2,113.0 L705.3,117.0 L705.5,121.0 L705.6,125.0 L705.8,129.0 L705.9,133.0 L706.1,137.0 L706.2,141.0 L706.4,145.0 L706.5,149.0 L706.7,153.0 L706.8,157.0 L707.0,161.0 L707.1,165.0 L707.3,169.0 L707.4,173.0 L707.6,177.0 L707.7,181.0 L707.9,185.0 L708.1,189.0 L708.2,193.0 L708.4,197.0 L708.5,201.0 L708.7,205.0 L708.9,209.0 L709.0,213.0 L709.2,217.0 L709.3,221.0 L709.5,225.0 L709.7,229.0 L709.8,233.0 L710.0,236.9 L710.2,240.9 L710.3,244.9 L710.5,248.9 L710.7,252.9 L710.9,256.9 L711.0,260.9 L711.2,264.9 L711.4,268.9 L711.5,272.9 L711.7,276.9 L711.9,280.9 L712.1,284.9 L712.2,288.9 L712.4,292.9 L712.6,296.9 L712.8,300.9 L712.9,304.9 L713.1,308.9 L713.3,312.9 L713.5,316.9 L713.7,320.9 L713.8,324.9 L714.0,328.9 L714.2,332.9 L714.4,336.9 L714.6,340.9 L714.8,344.9 L715.0,348.9 L715.1,352.9 L715.3,356.9 L715.5,360.9 L715.7,364.9 L715.9,368.9 L716.1,372.9 L716.3,376.9 L716.5,380.9 L716.7,384.9 L716.9,388.9 L717.0,392.9 L717.2,396.9 L717.4,400.9 L717.6,404.9 L717.8,408.8 L718.0,412.8 L718.2,416.8 L718.4,420.8 L718.6,424.8 L718.8,428.8 L719.0,432.8 L719.2,436.8 L719.4,440.8 L719.6,444.8 L719.8,448.8 L720.0,452.8 L720.3,456.8 L720.5,460.8 L720.7,464.8 L720.9,468.8 L721.1,472.8 L721.3,476.8 L721.5,480.8 L721.7,484.8 L721.9,488.8 L722.1,492.8 L722.4,496.8 L722.6,500.8 L722.8,504.8 L723.0,508.8 L723.2,512.8 L723.4,516.7 L723.7,520.7 L723.9,524.7 L724.1,528.7 L724.3,532.7 L724.5,536.7 L724.8,540.7 L725.0,544.7 L725.2,548.7 L725.4,552.7 L725.7,556.7 L725.9,560.7 L726.1,564.7 L726.3,568.7 L726.6,572.7 L726.8,576.7 L727.0,580.7 L727.3,584.7 L727.5,588.7 L727.7,592.7 L728.0,596.7 L728.2,600.6 L728.4,604.6 L728.7,608.6 L728.9,612.6 L729.2,616.6 L729.4,620.6 L729.6,624.6 L729.9,628.6 L730.1,632.6 L730.4,636.6 L730.6,640.6 L730.9,644.6 L731.1,648.6 L731.4,652.6 L731.6,656.6 L731.9,660.6 L732.1,664.6 L732.4,668.6 L732.6,672.5 L732.9,676.5 L733.1,680.5 L733.4,684.5 L733.6,688.5 L733.9,692.5 L734.2,696.5 L734.4,700.5 L734.7,704.5 L734.9,708.5 L735.2,712.5 L735.5,716.5 L735.7,720.5 L736.0,724.5 L736.3,728.4 L736.5,732.4 L736.8,736.4 L737.1,740.4 L737.3,744.4 L737.6,748.4 L737.9,752.4 L738.2,756.4 L738.4,760.4 L738.7,764.4 L739.0,768.4 L739.3,772.4 L739.6,776.4 L739.9,780.3 L740.1,784.3 L740.4,788.3 L740.7,792.3 L741.0,796.3 L741.3,800.3 L741.6,804.3 L741.9,808.3 L742.2,812.3 L742.5,816.3 L742.8,820.3 L743.1,824.2 L743.4,828.2 L743.7,832.2 L744.0,836.2 L744.3,840.2 L744.6,844.2 L744.9,848.2 L745.2,852.2 L745.5,856.2 L745.8,860.2 L746.1,864.1 L746.4,868.1 L746.7,872.1 L747.1,876.1 L747.4,880.1 L747.7,884.1 L748.0,888.1 L748.3,892.1 L748.7,896.1 L749.0,900.0 L749.3,904.0 L749.7,908.0 L750.0,912.0 L750.3,916.0 L750.7,920.0 L751.0,924.0 L751.3,928.0 L751.7,931.9 L752.0,935.9 L752.4,939.9 L752.7,943.9 L753.1,947.9 L753.4,951.9 L753.8,955.9 L754.1,959.8 L754.5,963.8 L754.8,967.8 L755.2,971.8 L755.6,975.8 L755.9,979.8 L756.3,983.7 L756.7,987.7 L757.0,991.7 L757.4,995.7 L757.8,999.7 L758.2,1003.7 L758.5,1007.7 L758.9,1011.6 L759.3,1015.6 L759.7,1019.6 L760.1,1023.6 L760.5,1027.6 L760.9,1031.5 L761.3,1035.5 L761.7,1039.5 L762.1,1043.5 L762.5,1047.5 L762.9,1051.4 L763.3,1055.4 L763.7,1059.4 L764.2,1063.4 L764.6,1067.4 L765.0,1071.3 L765.4,1075.3 L765.9,1079.3 L766.3,1083.3 L766.8,1087.3 L767.2,1091.2 L767.6,1095.2 L768.1,1099.2 L768.5,1103.2 L769.0,1107.1 L769.5,1111.1 L769.9,1115.1 L770.4,1119.1 L770.9,1123.0 L771.3,1127.0 L771.8,1131.0 L772.3,1134.9 L772.8,1138.9 L773.3,1142.9 L773.8,1146.9 L774.3,1150.8 L774.8,1154.8 L775.3,1158.8 L775.8,1162.7 L776.3,1166.7 L776.9,1170.7 L777.4,1174.6 L777.9,1178.6 L778.5,1182.6 L779.0,1186.5 L779.6,1190.5 L780.1,1194.4 L780.7,1198.4 L781.3,1202.4 L781.9,1206.3 L782.4,1210.3 L783.0,1214.2 L783.6,1218.2 L784.2,1222.1 L784.8,1226.1 L785.5,1230.1 L786.1,1234.0 L786.7,1238.0 L787.4,1241.9 L788.0,1245.9 L788.7,1249.8 L789.4,1253.7 L790.0,1257.7 L790.7,1261.6 L791.4,1265.6 L792.1,1269.5 L792.8,1273.4 L793.6,1277.4 L794.3,1281.3 L795.0,1285.2 L795.8,1289.2 L796.6,1293.1 L797.4,1297.0 L798.2,1300.9 L799.0,1304.9 L799.8,1308.8 L800.6,1312.7 L801.5,1316.6 L802.3,1320.5 L803.2,1324.4 L804.1,1328.3 L805.0,1332.2 L805.9,1336.1 L806.9,1340.0 L807.9,1343.9 L808.8,1347.7 L809.8,1351.6 L810.9,1355.5 L811.9,1359.4 L813.0,1363.2 L814.1,1367.1 L815.2,1370.9 L816.3,1374.7 L817.5,1378.6 L818.7,1382.4 L820.0,1386.2 L821.2,1390.0 L822.5,1393.8 L823.8,1397.5 L825.2,1401.3 L826.6,1405.1 L828.1,1408.8 L829.5,1412.5 L831.1,1416.2 L832.7,1419.9 L834.3,1423.5 L836.0,1427.2 L837.7,1430.8 L839.6,1434.3 L841.4,1437.9 L843.4,1441.4 L845.4,1444.8 L847.5,1448.2 L849.7,1451.6 L852.0,1454.8 L854.4,1458.1 L856.9,1461.2 L859.5,1464.2 L862.2,1467.2 L865.1,1470.0 L868.1,1472.7 L871.2,1475.2 L874.4,1477.6 L877.8,1479.7 L881.3,1481.7 L884.9,1483.4 L888.6,1484.9 L892.4,1486.2 L896.2,1487.2 L900.2,1488.0 L904.1,1488.5 L908.1,1488.9 L912.1,1489.0 L916.1,1488.9 L920.1,1488.6 L924.1,1488.2 L928.0,1487.6 L932.0,1486.8 L935.9,1486.0 L939.8,1485.1 L943.6,1484.0 L947.5,1482.9 L951.3,1481.7 L955.1,1480.4 L958.9,1479.1 L962.6,1477.7 L966.3,1476.3 L970.1,1474.8 L973.8,1473.3 L977.5,1471.8 L981.1,1470.2 L984.8,1468.6 L988.5,1467.0 L992.1,1465.4 L995.8,1463.8 L999.4,1462.1 L1003.1,1460.4 L1006.7,1458.8 L1010.3,1457.1 L1014.0,1455.4 L1017.6,1453.7 L1021.2,1452.1 L1024.9,1450.4 L1028.5,1448.7 L1032.1,1447.0 L1035.8,1445.4 L1039.4,1443.7 L1043.1,1442.1 L1046.7,1440.4 L1050.4,1438.8 L1054.0,1437.2 L1057.7,1435.5 L1061.4,1433.9 L1065.0,1432.3 L1068.7,1430.7 L1072.4,1429.2 L1076.1,1427.6 L1079.8,1426.1 L1083.5,1424.6 L1087.2,1423.1 L1090.9,1421.6 L1094.6,1420.1 L1098.3,1418.6 L1102.1,1417.2 L1105.8,1415.7 L1109.6,1414.3 L1113.3,1412.9 L1117.1,1411.5 L1120.8,1410.2 L1124.6,1408.8 L1128.4,1407.5 L1132.2,1406.2 L1136.0,1404.9 L1139.8,1403.6 L1143.6,1402.4 L1147.4,1401.1 L1151.2,1399.9 L1155.0,1398.7 L1158.8,1397.5 L1162.7,1396.4 L1166.5,1395.2 L1170.3,1394.1 L1174.2,1393.0 L1178.0,1391.9 L1181.9,1390.8 L1185.8,1389.8 L1189.6,1388.7 L1193.5,1387.7 L1197.4,1386.7 L1201.2,1385.7 L1205.1,1384.7 L1209.0,1383.8 L1212.9,1382.8 L1216.8,1381.9 L1220.7,1381.0 L1224.6,1380.1 L1228.5,1379.3 L1232.4,1378.4 L1236.3,1377.6 L1240.3,1376.7 L1244.2,1375.9 L1248.1,1375.1 L1252.0,1374.3 L1255.9,1373.6 L1259.9,1372.8 L1263.8,1372.1 L1267.7,1371.4 L1271.7,1370.7 L1275.6,1370.0 L1279.6,1369.3 L1283.5,1368.6 L1287.5,1367.9 L1291.4,1367.3 L1295.4,1366.7 L1299.3,1366.1 L1303.3,1365.5 L1307.2,1364.9 L1311.2,1364.3 L1315.2,1363.7 L1319.1,1363.1 L1323.1,1362.6 L1327.0,1362.1 L1331.0,1361.5 L1335.0,1361.0 L1338.9,1360.5 L1342.9,1360.0 L1346.9,1359.5 L1350.9,1359.1 L1354.8,1358.6 L1358.8,1358.1 L1362.8,1357.7 L1366.8,1357.2 L1370.7,1356.8 L1374.7,1356.4 L1378.7,1356.0 L1382.7,1355.6 L1386.7,1355.2 L1390.6,1354.8 L1394.6,1354.4 L1398.6,1354.0 L1402.6,1353.7 L1406.6,1353.3 L1410.6,1353.0 L1414.5,1352.6 L1418.5,1352.3 L1422.5,1352.0 L1426.5,1351.7 L1430.5,1351.3 L1434.5,1351.0 L1438.5,1350.7 L1442.5,1350.4 L1446.4,1350.2 L1450.4,1349.9 L1454.4,1349.6 L1458.4,1349.3 L1462.4,1349.1 L1466.4,1348.8 L1470.4,1348.5 L1474.4,1348.3 L1478.4,1348.0 L1482.4,1347.8 L1486.4,1347.6 L1490.4,1347.3 L1494.4,1347.1 L1498.3,1346.9 L1502.3,1346.7 L1506.3,1346.5 L1510.3,1346.3 L1514.3,1346.1 L1518.3,1345.9 L1522.3,1345.7 L1526.3,1345.5 L1530.3,1345.3 L1534.3,1345.1 L1538.3,1344.9 L1542.3,1344.8 L1546.3,1344.6 L1550.3,1344.4 L1554.3,1344.3 L1558.3,1344.1 L1562.3,1343.9 L1566.3,1343.7 L1570.3,1343.6 L1574.3,1343.4 L1578.3,1343.2" stroke="#0f0" stroke-dasharray="52.7 25.0 11.4 25.28" stroke-dashoffset="7.30"/>
</g>
<g fill="#000" shape-rendering="crispEdges">
<rect x="265" y="40" width="6" height="1692"/>
<rect x="268" y="1726" width="1284.3" height="6"/>
<rect x="255" y="1716.0" width="11" height="6"/>
<rect x="244.3" y="1587.1" width="22" height="6"/>
<rect x="255" y="1458.2" width="11" height="6"/>
<rect x="244.3" y="1329.3" width="22" height="6"/>
<rect x="255" y="1200.4" width="11" height="6"/>
<rect x="244.3" y="1071.5" width="22" height="6"/>
<rect x="255" y="942.6" width="11" height="6"/>
<rect x="244.3" y="813.7" width="22" height="6"/>
<rect x="255" y="684.8" width="11" height="6"/>
<rect x="244.3" y="555.8" width="22" height="6"/>
<rect x="255" y="426.9" width="11" height="6"/>
<rect x="244.3" y="298.0" width="22" height="6"/>
<rect x="255" y="169.1" width="11" height="6"/>
<rect x="244.3" y="40.2" width="22" height="6"/>
<rect x="275.5" y="1730" width="6" height="22.8"/>
<rect x="354.9" y="1730" width="6" height="12.8"/>
<rect x="434.3" y="1730" width="6" height="22.8"/>
<rect x="513.7" y="1730" width="6" height="12.8"/>
<rect x="593.1" y="1730" width="6" height="22.8"/>
<rect x="672.5" y="1730" width="6" height="12.8"/>
<rect x="751.9" y="1730" width="6" height="22.8"/>
<rect x="831.3" y="1730" width="6" height="12.8"/>
<rect x="910.7" y="1730" width="6" height="22.8"/>
<rect x="990.1" y="1730" width="6" height="12.8"/>
<rect x="1069.5" y="1730" width="6" height="22.8"/>
<rect x="1148.9" y="1730" width="6" height="12.8"/>
<rect x="1228.3" y="1730" width="6" height="22.8"/>
<rect x="1307.7" y="1730" width="6" height="12.8"/>
<rect x="1387.1" y="1730" width="6" height="22.8"/>
<rect x="1466.5" y="1730" width="6" height="12.8"/>
<rect x="1545.9" y="1730" width="6" height="22.8"/>
</g>
<g text-anchor="end">
<text x="245.25" y="75" letter-spacing="-1.3">100</text>
<text x="243.25" y="330">80</text>
<text x="243.25" y="590">60</text>
<text x="243.25" y="845">40</text>
<text x="243.25" y="1105">20</text>
<text x="245.35" y="1360">0</text>
</g>
<text y="1620"><tspan x="121.67" dy="3.6" textLength="35.5" lengthAdjust="spacingAndGlyphs">−</tspan><tspan x="163.5" dy="-3.6">20</tspan></text>
<g text-anchor="middle">
<text x="281.85" y="1824">2</text>
<text x="436.65" y="1824">3</text>
<text x="593.9" y="1824">4</text>
<text x="754.7" y="1824">5</text>
<text x="911.9" y="1824">6</text>
<text x="1071.8" y="1824">7</text>
<text x="1229.8" y="1824">8</text>
<text x="1391.5" y="1824">9</text>
<text x="1547.0" y="1824">10</text>
</g>
<text x="688.6" y="1912" dy="3 -3" letter-spacing="-0.9">Displacement</text>
<text class="sans" style="font-size:57px" y="1908" x="1136.4 1157.2 1200.7">(Å)</text>
<text transform="translate(81,1162.7) rotate(-90)" letter-spacing="-0.71">Energy (kcal/mol)</text>
<g fill="#000" shape-rendering="crispEdges"><rect x="1600" y="620" width="418" height="6"/><rect x="1600" y="620" width="6" height="673"/><rect x="2011" y="620" width="7" height="673"/><rect x="1600" y="1286" width="418" height="7"/></g>
<g fill="none" stroke-width="9.2" shape-rendering="crispEdges">
<path d="M1620.9,672.5H1799.1" stroke="#000"/>
<path d="M1620.9,808.4H1799.1" stroke="#f00" stroke-dasharray="11.4 25.06"/>
<path d="M1620.9,995.6H1799.1" stroke="#00f" stroke-dasharray="79.2 24.88"/>
<path d="M1620.9,1182.4H1799.1" stroke="#0f0" stroke-dasharray="52.7 25 11.4 25.28"/>
</g>
<g text-anchor="middle">
<text x="1854.5" y="703.7">0</text>
<text x="1880.8" y="799.8" style="font-size:84px" stroke="#000" stroke-width="2">π</text>
<rect x="1845" y="812.9" width="74" height="6" shape-rendering="crispEdges"/>
<text x="1880" y="891.9">6</text>
<text x="1885" y="986.8" style="font-size:84px" stroke="#000" stroke-width="2">π</text>
<rect x="1845" y="999.9" width="74" height="6" shape-rendering="crispEdges"/>
<text x="1880" y="1078.9">4</text>
<text x="1885" y="1178.9" style="font-size:84px" stroke="#000" stroke-width="2">π</text>
<rect x="1845" y="1188.0" width="74" height="6" shape-rendering="crispEdges"/>
<text x="1880" y="1267.0">3</text>
</g>
</svg></body></html>
